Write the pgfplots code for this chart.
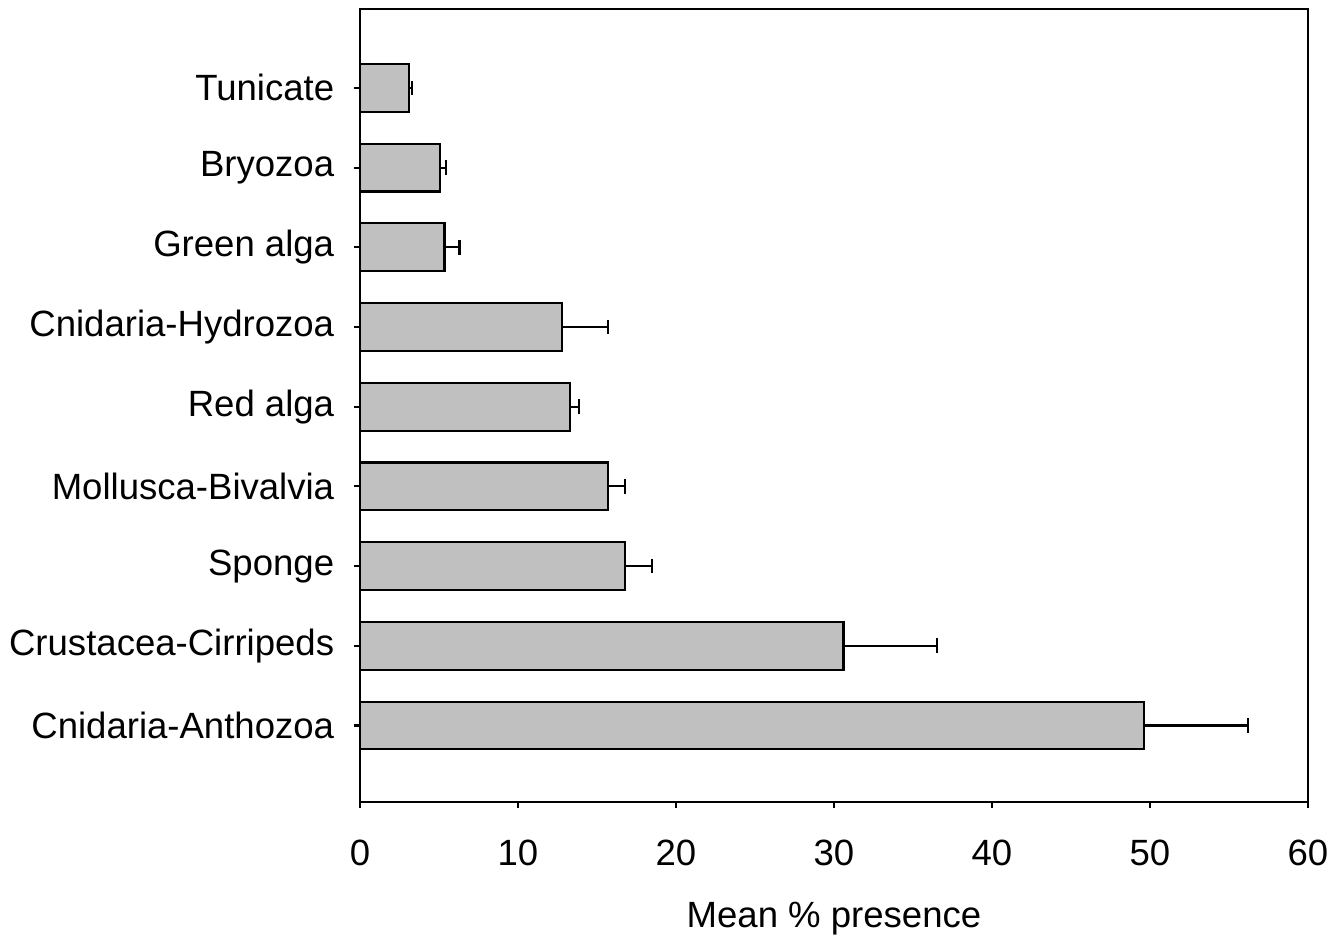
\documentclass[border=0pt]{standalone}
\usepackage{pgfplots}
\pgfplotsset{compat=1.18}
\usepackage{fontspec}
\setmainfont{Liberation Sans}
\begin{document}
\fontsize{10.4}{12.5}\selectfont
\begin{tikzpicture}
\begin{axis}[
    scale only axis,
    width=9.48cm, height=7.93cm,
    xmin=0, xmax=60,
    ymin=-0.96, ymax=8.99,
    xtick={0,10,...,60},
    ytick={0,...,8},
    yticklabels={Cnidaria-Anthozoa,Crustacea-Cirripeds,Sponge,Mollusca-Bivalvia,Red alga,Cnidaria-Hydrozoa,Green alga,Bryozoa,Tunicate},
    tick align=outside,
    xtick pos=bottom, ytick pos=left,
    major tick length=0.06cm,
    axis line style={line width=0.6pt},
    every tick/.style={black, line width=0.6pt},
    /pgf/number format/assume math mode=true,
    tick label style={font=\fontsize{10.4}{12.5}\selectfont},
    xticklabel style={yshift=-0.19cm},
    yticklabel style={xshift=-0.07cm},
    xlabel={Mean \% presence},
    xlabel style={yshift=-0.11cm},
    label style={font=\fontsize{10.4}{12.5}\selectfont},
]
\addplot[xbar, bar width=0.6, fill={rgb,255:red,192;green,192;blue,192}, draw=black, line width=0.6pt,
    error bars/.cd, x dir=plus, x explicit,
    error mark options={rotate=90, mark size=2.1pt, line width=0.6pt},
    error bar style={line width=0.6pt}]
coordinates {
    (49.6,0) +- (6.6,0)
    (30.6,1) +- (5.9,0)
    (16.75,2) +- (1.75,0)
    (15.7,3) +- (1.1,0)
    (13.3,4) +- (0.55,0)
    (12.8,5) +- (2.9,0)
    (5.35,6) +- (0.95,0)
    (5.05,7) +- (0.4,0)
    (3.1,8) +- (0.2,0)
};
\end{axis}
\pgfresetboundingbox
\path (-3.60cm,-1.33cm) rectangle (9.83cm,8.02cm);
\end{tikzpicture}
\end{document}
